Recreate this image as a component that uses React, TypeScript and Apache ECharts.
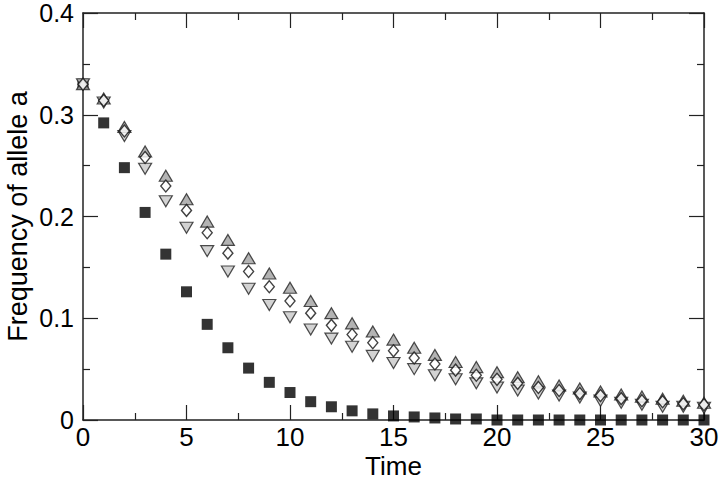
import React, { useEffect, useRef } from "react";
import * as echarts from "echarts";

const time = [0, 1, 2, 3, 4, 5, 6, 7, 8, 9, 10, 11, 12, 13, 14, 15, 16, 17, 18, 19, 20, 21, 22, 23, 24, 25, 26, 27, 28, 29, 30];

const squares = [0.33, 0.292, 0.248, 0.204, 0.163, 0.126, 0.094, 0.071, 0.051, 0.037, 0.027, 0.018, 0.013, 0.009, 0.006, 0.004, 0.003, 0.002, 0.001, 0.001, 0, 0, 0, 0, 0, 0, 0, 0, 0, 0, 0];

const triUp = [0.33, 0.316, 0.288, 0.264, 0.240, 0.217, 0.195, 0.177, 0.159, 0.144, 0.130, 0.117, 0.105, 0.095, 0.087, 0.079, 0.071, 0.064, 0.057, 0.052, 0.047, 0.042, 0.038, 0.034, 0.031, 0.028, 0.025, 0.023, 0.021, 0.019, 0.017];

const diamonds = [0.33, 0.314, 0.284, 0.258, 0.230, 0.206, 0.184, 0.164, 0.146, 0.131, 0.117, 0.105, 0.093, 0.084, 0.076, 0.068, 0.061, 0.055, 0.049, 0.044, 0.040, 0.036, 0.032, 0.029, 0.026, 0.024, 0.021, 0.019, 0.018, 0.016, 0.015];

const triDown = [0.33, 0.312, 0.279, 0.247, 0.215, 0.189, 0.166, 0.146, 0.129, 0.113, 0.101, 0.089, 0.080, 0.072, 0.063, 0.056, 0.050, 0.044, 0.040, 0.036, 0.032, 0.029, 0.026, 0.024, 0.022, 0.019, 0.017, 0.015, 0.013, 0.013, 0.012];

const xTicks = [0, 5, 10, 15, 20, 25, 30];
const yTicks = [0, 0.1, 0.2, 0.3, 0.4];

const FONT = "'Liberation Sans', Arial, Helvetica, sans-serif";

const pairs = (ys: number[]) => time.map((t, i) => [t, ys[i]]);

export default function App() {
  const ref = useRef<HTMLDivElement>(null);
  useEffect(() => {
    if (!ref.current) return;
    const chart = echarts.init(ref.current, null, { renderer: "svg" });
    const axisLine = { show: true, onZero: false, lineStyle: { color: "#222", width: 1.5 } };
    const axisTick = { show: true, inside: true, length: 15, lineStyle: { color: "#222", width: 1.2 } };
    const minorTick = { show: true, splitNumber: 2, length: 7, lineStyle: { color: "#222", width: 1.2 } };
    const xCommon = {
      type: "value" as const,
      min: xTicks[0],
      max: xTicks[xTicks.length - 1],
      interval: 5,
      axisLine,
      axisTick,
      minorTick,
      splitLine: { show: false },
    };
    const yCommon = {
      type: "value" as const,
      min: yTicks[0],
      max: yTicks[yTicks.length - 1],
      interval: 0.1,
      axisLine,
      axisTick,
      minorTick,
      splitLine: { show: false },
    };
    chart.setOption({
      animation: false,
      backgroundColor: "#ffffff",
      grid: { left: 83, right: 16, top: 13, bottom: 60, containLabel: false, outerBoundsMode: "none" },
      xAxis: [
        {
          ...xCommon,
          position: "bottom",
          name: "Time",
          nameLocation: "middle",
          nameGap: 33,
          nameMoveOverlap: false,
          nameTextStyle: { fontFamily: FONT, fontSize: 26, lineHeight: 25, color: "#000" },
          axisLabel: { show: true, margin: 6, fontFamily: FONT, fontSize: 26, lineHeight: 22, color: "#000" },
        },
        { ...xCommon, position: "top", axisLabel: { show: false } },
      ],
      yAxis: [
        {
          ...yCommon,
          position: "left",
          name: "Frequency of allele a",
          nameLocation: "middle",
          nameGap: 52,
          nameMoveOverlap: false,
          nameTextStyle: { fontFamily: FONT, fontSize: 27, color: "#000" },
          axisLabel: {
            show: true,
            margin: 9,
            fontFamily: FONT,
            fontSize: 25,
            color: "#000",
            formatter: (v: number) => (v === 0 ? "0" : v.toFixed(1)),
          },
        },
        { ...yCommon, position: "right", axisLabel: { show: false } },
      ],
      series: [
        {
          name: "squares",
          type: "scatter",
          xAxisIndex: 0,
          yAxisIndex: 0,
          symbol: "rect",
          symbolSize: 11,
          itemStyle: { color: "#000", borderColor: "#000", borderWidth: 0 },
          data: pairs(squares),
        },
        {
          name: "triDown",
          type: "scatter",
          xAxisIndex: 0,
          yAxisIndex: 0,
          symbol: "triangle",
          symbolRotate: 180,
          symbolSize: [13, 11],
          itemStyle: { color: "#c8c8c8", borderColor: "#222", borderWidth: 1.2 },
          data: pairs(triDown),
        },
        {
          name: "triUp",
          type: "scatter",
          xAxisIndex: 0,
          yAxisIndex: 0,
          symbol: "triangle",
          symbolSize: [13, 11],
          itemStyle: { color: "#a0a0a0", borderColor: "#222", borderWidth: 1.2 },
          data: pairs(triUp),
        },
        {
          name: "diamonds",
          type: "scatter",
          xAxisIndex: 0,
          yAxisIndex: 0,
          symbol: "diamond",
          symbolSize: [10, 12],
          itemStyle: { color: "#ffffff", borderColor: "#111", borderWidth: 1.4 },
          data: pairs(diamonds),
        },
      ],
    });
    return () => chart.dispose();
  }, []);
  return (
    <div
      ref={ref}
      style={{ position: "fixed", left: 0, top: 0, width: 720, height: 480, background: "#fff" }}
    />
  );
}
